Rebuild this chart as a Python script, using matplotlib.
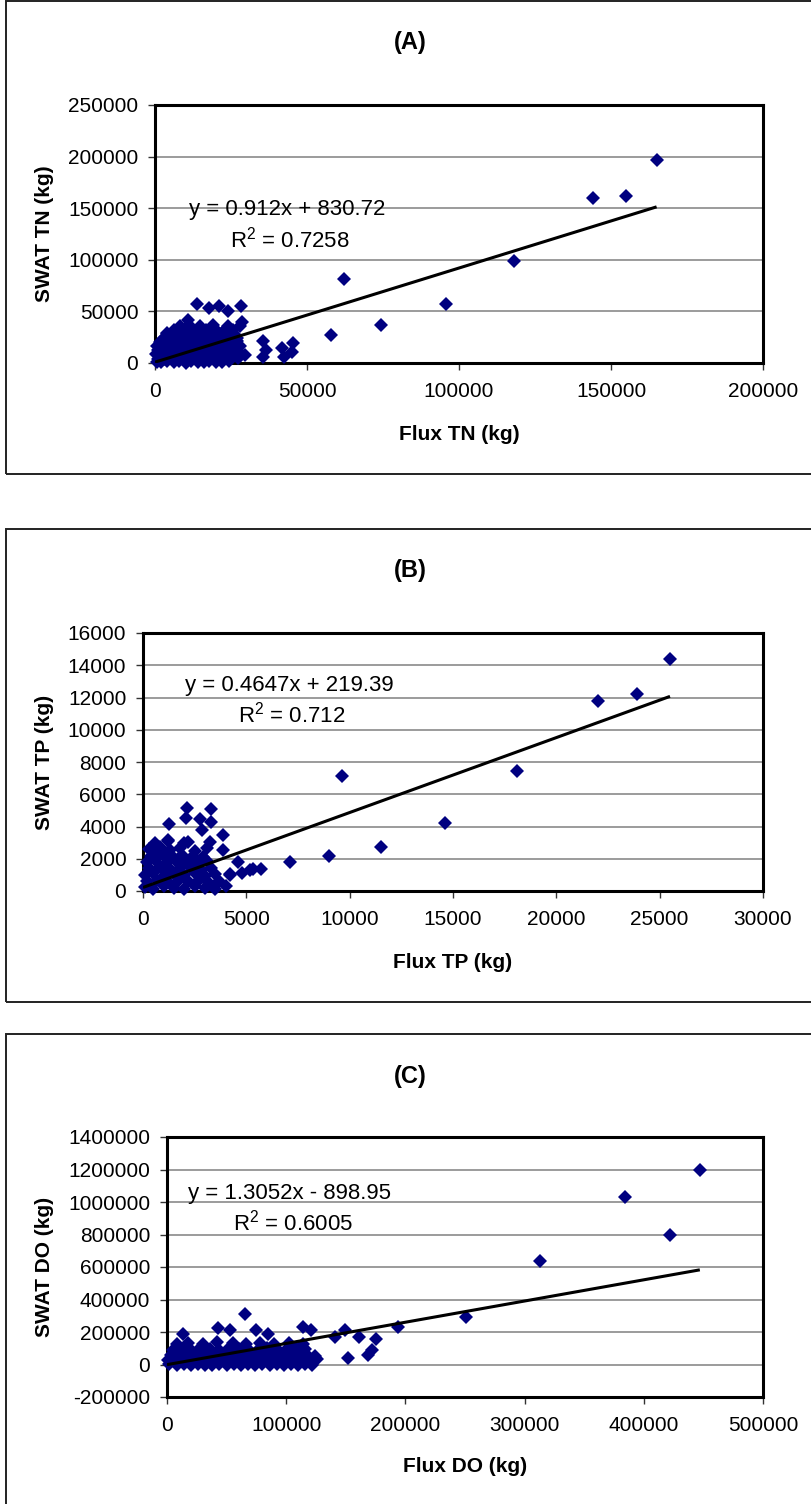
import numpy as np
import matplotlib
matplotlib.use("Agg")
import matplotlib.pyplot as plt
from matplotlib.patches import Rectangle

plt.rcParams['font.family'] = ['Liberation Sans', 'DejaVu Sans']
plt.rcParams['mathtext.fontset'] = 'custom'
plt.rcParams['mathtext.rm'] = 'Liberation Sans'

W, H = 811, 1504

# ---- (A) total nitrogen, values in 1000 kg ----
tn_flux = [0.5, 2.1, 3.8, 6.2, 7.9, 10.3, 11.8, 14.2, 16.1, 17.7, 20.2, 22.1, 24.3,
           1.1, 3.2, 4.9, 7.1, 9.2, 10.8, 13.1, 15.2, 16.9, 19.1, 21.2, 22.8, 25.1, 27.2,
           0.4, 2.2, 3.9, 6.1, 8.2, 9.9, 12.2, 13.8, 16.2, 18.1, 19.8, 22.2, 23.9, 26.1, 28.3,
           1.0, 2.9, 5.2, 6.8, 9.1, 11.2, 12.9, 15.1, 17.2, 18.8, 21.1, 23.2, 24.8, 27.1,
           0.6, 2.1, 4.1, 5.9, 8.1, 10.1, 11.9, 14.1, 15.9, 18.2, 20.1, 21.9, 24.1, 26.2, 28.1,
           1.5, 3.1, 5.1, 6.9, 8.9, 11.1, 13.2, 14.9, 17.1, 19.2, 20.9, 23.1, 25.2, 26.9,
           3.0, 5.1, 7.2, 8.8, 11.1, 12.9, 15.2, 17.1, 18.9, 21.2, 23.1, 24.9, 27.1,
           4.1, 6.2, 7.9, 10.1, 12.2, 13.9, 16.1, 18.2, 19.8, 22.1, 24.2, 25.9,
           6.1, 8.9, 12.1, 14.2, 16.9, 20.1, 23.2, 25.8,
           8.1, 11.2, 14.8, 19.1, 23.9, 27.8,
           3.8, 8.2, 11.0, 13.9, 17.8, 21.0, 24.1, 28.4, 28.5, 29.7, 35.6, 36.5, 35.6,
           41.7, 42.4, 45.0, 45.5, 58.0, 62.2, 74.4, 95.7, 118.1, 144.0, 155.0, 165.0]
tn_swat = [1.2, 0.6, 1.8, 0.9, 1.5, 0.4, 2.0, 1.1, 0.7, 1.9, 1.3, 0.8, 1.6,
           4.2, 3.6, 4.8, 3.9, 4.5, 3.4, 5.0, 4.1, 3.7, 4.9, 4.3, 3.8, 4.6, 5.2,
           8.3, 7.6, 8.8, 7.9, 8.5, 7.4, 9.0, 8.1, 7.7, 8.9, 8.3, 7.8, 8.6, 7.5, 8.2,
           12.2, 11.6, 12.8, 11.9, 12.5, 11.4, 13.0, 12.1, 11.7, 12.9, 12.3, 11.8, 12.6, 13.1,
           16.3, 15.6, 16.8, 15.9, 16.5, 15.4, 17.0, 16.1, 15.7, 16.9, 16.3, 15.8, 16.6, 15.5, 16.2,
           20.2, 19.6, 20.8, 19.9, 20.5, 19.4, 21.0, 20.1, 19.7, 20.9, 20.3, 19.8, 20.6, 21.2,
           24.3, 23.7, 24.8, 23.9, 24.5, 23.5, 25.0, 24.1, 23.7, 24.9, 24.3, 23.8, 24.6,
           28.2, 27.6, 28.8, 27.9, 28.5, 27.4, 29.0, 28.1, 27.7, 28.9, 28.3, 27.8,
           32.1, 31.6, 32.8, 31.9, 32.4, 31.5, 32.9, 32.2,
           35.8, 36.4, 35.5, 36.9, 35.7, 36.3,
           29.4, 34.7, 41.8, 57.0, 53.1, 55.4, 50.8, 55.4, 40.1, 7.8, 21.7, 12.6, 6.1,
           14.9, 6.1, 10.4, 19.1, 27.2, 81.6, 37.2, 57.0, 98.4, 160.0, 162.0, 197.0]

# ---- (B) total phosphorus, values in 1000 kg ----
tp_flux = [0.1, 0.5, 1.0, 1.5, 2.0, 2.5, 3.0, 3.5, 4.0,
           0.2, 0.7, 1.2, 1.7, 2.2, 2.7, 3.2, 3.7,
           0.1, 0.5, 1.0, 1.5, 2.0, 2.5, 3.0, 3.5, 4.2,
           0.3, 0.8, 1.3, 1.8, 2.3, 2.8, 3.3,
           0.2, 0.6, 1.1, 1.6, 2.1, 2.6, 3.1,
           0.4, 0.9, 1.4, 1.9, 2.4, 2.9,
           0.3, 0.8, 1.3, 1.8, 2.5,
           0.6, 1.2, 2.0,
           2.13, 3.3, 3.3, 2.76, 2.1, 2.84, 1.27, 3.85, 3.24, 3.1, 3.85, 2.2, 1.22, 0.66,
           4.6, 5.3, 5.7, 7.1, 9.0, 9.63, 11.5, 14.6, 18.1, 22.0, 23.9, 25.5, 4.2, 4.8, 5.2]
tp_swat = [0.25, 0.15, 0.3, 0.2, 0.1, 0.3, 0.2, 0.15, 0.3,
           0.6, 0.7, 0.55, 0.65, 0.6, 0.7, 0.5, 0.65,
           1.0, 1.1, 0.95, 1.05, 1.0, 1.1, 0.9, 1.05, 1.0,
           1.4, 1.5, 1.35, 1.45, 1.4, 1.3, 1.45,
           1.8, 1.9, 1.75, 1.85, 1.8, 1.7, 1.85,
           2.2, 2.3, 2.15, 2.25, 2.2, 2.1,
           2.6, 2.7, 2.55, 2.65, 2.5,
           3.0, 3.1, 2.95,
           5.17, 5.07, 4.3, 4.44, 4.55, 3.78, 4.15, 3.47, 3.06, 2.69, 2.54, 3.06, 3.16, 2.54,
           1.8, 1.36, 1.36, 1.8, 2.2, 7.15, 2.7, 4.2, 7.45, 11.8, 12.2, 14.4, 1.05, 1.1, 1.3]

# ---- (C) dissolved oxygen, values in 1000 kg ----
do_flux = [2, 8, 14, 20, 26, 32, 38, 44, 50, 56, 62, 68, 74, 80, 86, 92, 98, 104, 110, 116, 122,
           1, 6, 12, 18, 24, 30, 36, 42, 48, 54, 60, 66, 72, 78, 84, 90, 96, 102, 108, 114, 120, 126,
           3, 9, 15, 21, 27, 33, 39, 45, 51, 57, 63, 69, 75, 81, 87, 93, 99, 105, 111, 117, 124,
           5, 12, 20, 28, 36, 44, 52, 60, 68, 76, 84, 92, 100, 108, 116,
           8, 18, 30, 42, 55, 66, 78, 90, 102, 114,
           65.4, 194, 175, 171.7, 169, 152, 161, 149.6, 141, 121, 114, 13.7, 43, 75, 85, 52.9,
           251, 313, 384, 422, 447]
do_swat = [2, -5, 4, -3, 6, 0, -6, 3, -2, 5, -4, 2, -5, 4, -1, 6, -3, 2, -6, 3, 0,
           30, 36, 25, 33, 28, 38, 24, 31, 35, 27, 32, 26, 37, 29, 34, 24, 30, 36, 27, 33, 25, 31,
           60, 66, 55, 63, 58, 68, 54, 61, 65, 57, 62, 56, 67, 59, 64, 54, 60, 66, 57, 63, 55,
           92, 98, 88, 101, 94, 90, 99, 93, 97, 89, 100, 95, 91, 98, 94,
           128, 134, 125, 137, 130, 126, 135, 129, 133, 127,
           309, 233, 155, 89, 58, 42, 171, 212, 171, 212, 233, 188, 227, 212, 188, 212,
           295, 640, 1030, 800, 1200]

# trend lines as printed on the chart
fits = {'A': (0.912, 830.72, 0.7258), 'B': (0.4647, 219.39, 0.712), 'C': (1.3052, -898.95, 0.6005)}

x_ticks_a = [0, 50000, 100000, 150000, 200000]
y_ticks_a = [0, 50000, 100000, 150000, 200000, 250000]
x_ticks_b = [0, 5000, 10000, 15000, 20000, 25000, 30000]
y_ticks_b = [0, 2000, 4000, 6000, 8000, 10000, 12000, 14000, 16000]
x_ticks_c = [0, 100000, 200000, 300000, 400000, 500000]
y_ticks_c = [-200000, 0, 200000, 400000, 600000, 800000, 1000000, 1200000, 1400000]

fig = plt.figure(figsize=(W / 100, H / 100), dpi=100)


def fx(px):
    return px / W


def fy(py):
    return 1 - py / H


def draw_panel(tag, xs, ys, xticks, yticks, box_top, left, top, bottom, xlab, ylab,
               eq_pos, r2_pos):
    right = 763
    ax = fig.add_axes([fx(left), fy(bottom), fx(right - left), (bottom - top) / H])
    x = np.array(xs) * 1000
    y = np.array(ys) * 1000
    ax.plot(x, y, 'D', ms=7.5, color='#000080', mew=0, clip_on=False, zorder=3)
    m, b, r2 = fits[tag]
    xl = np.array([0, x.max()])
    ax.plot(xl, m * xl + b, color='black', lw=2.2, zorder=4, solid_capstyle='butt')
    ax.set_xlim(xticks[0], xticks[-1])
    ax.set_ylim(yticks[0], yticks[-1])
    ax.set_xticks(xticks)
    ax.set_xticklabels([str(v) for v in xticks])
    ax.set_yticks(yticks)
    ax.set_yticklabels([str(v) for v in yticks])
    ax.tick_params(axis='both', labelsize=15, length=5, width=1, color='#333333')
    ax.tick_params(axis='x', pad=9)
    ax.tick_params(axis='y', pad=7)
    ax.yaxis.grid(True, color='#808080', lw=1.1)
    ax.set_axisbelow(True)
    for s in ax.spines.values():
        s.set_linewidth(2.2)
        s.set_color('black')

    sign = '+' if b >= 0 else '-'
    fig.text(fx(eq_pos[0]), fy(eq_pos[1]), 'y = %sx %s %.2f' % (m, sign, abs(b)),
             fontsize=16, va='center', ha='left')
    fig.text(fx(r2_pos[0]), fy(r2_pos[1]), r'R$^{2}$ = %s' % r2,
             fontsize=16, va='center', ha='left')

    fig.text(fx(410), fy(box_top + 42), '(%s)' % tag, fontsize=17, fontweight='bold',
             ha='center', va='center')
    fig.text(fx((left + right) / 2), fy(box_top + 433), xlab, fontsize=15,
             fontweight='bold', ha='center', va='center')
    fig.text(fx(44), fy((top + bottom) / 2), ylab, fontsize=15, fontweight='bold',
             ha='center', va='center', rotation=90)

    fig.patches.append(Rectangle((fx(6), fy(box_top + 473)), fx(810), 473 / H,
                                 transform=fig.transFigure, fill=False,
                                 edgecolor='#222222', lw=1.4))


draw_panel('A', tn_flux, tn_swat, x_ticks_a, y_ticks_a, 1, 155, 105, 363,
           'Flux TN (kg)', 'SWAT TN (kg)', (189, 209), (230, 240))
draw_panel('B', tp_flux, tp_swat, x_ticks_b, y_ticks_b, 529, 143, 633, 891,
           'Flux TP (kg)', 'SWAT TP (kg)', (185, 685), (238, 715))
draw_panel('C', do_flux, do_swat, x_ticks_c, y_ticks_c, 1034, 167, 1137, 1397,
           'Flux DO (kg)', 'SWAT DO (kg)', (188, 1193), (233, 1223))

fig.savefig('out.png', dpi=100)
